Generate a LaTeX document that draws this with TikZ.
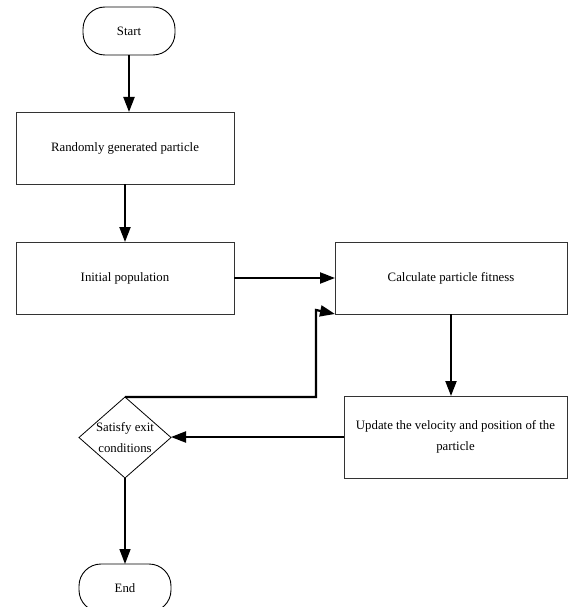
\documentclass[tikz,border=0pt]{standalone}
\usepackage{fontspec}
\setmainfont{Liberation Serif}
\usepackage{tikz}
\usetikzlibrary{arrows.meta,positioning,shapes.geometric}

\begin{document}
\begin{tikzpicture}[
  x=1pt,y=1pt,
  every node/.style={font=\fontsize{12.8}{21.5}\selectfont,align=center},
  box/.style={draw=black!80,line width=0.9pt,inner sep=0pt,outer sep=0pt,
              minimum width=218pt,minimum height=72pt},
  term/.style={draw,line width=0.9pt,rounded corners=22pt,inner sep=0pt,
              outer sep=0pt,minimum width=92pt,minimum height=48pt},
  cond/.style={draw,diamond,line width=0.8pt,inner sep=0pt,outer sep=0pt,
              minimum width=92pt,minimum height=81pt},
  arr/.style={-{Triangle[length=15pt,width=11pt]},line width=2.2pt}
]
\useasboundingbox (0,0) rectangle (568,-607);

\node[term] (start) at (129,-31) {Start};
\node[box,below=57pt of start,xshift=-4pt] (rand) {Randomly generated particle};
\node[box,below=58pt of rand] (init) {Initial population};
\node[box,minimum width=232pt,right=101pt of init] (fit) {Calculate particle fitness};
\node[box,minimum width=223pt,minimum height=82pt,below=82pt of fit,xshift=4.5pt] (upd)
  {Update the velocity and position of the\\particle};
\node[cond,below=83pt of init,label={center:Satisfy exit\\conditions}] (exit) {};
\node[term,below=86pt of exit] (end) {End};

\draw[arr] (start.south) -- (start.south |- rand.north);
\draw[arr] (rand) -- (init);
\draw[arr] (init) -- (fit);
\draw[arr] (fit.south) -- (fit.south |- upd.north);
\draw[arr] (upd.west) -- (upd.west -| exit.east);
\draw[arr] (exit.north) -| ([xshift=-19pt,yshift=4pt]fit.south west) -- (fit.south west);
\draw[arr,line width=1.6pt] (exit) -- (end);
\end{tikzpicture}
\end{document}
